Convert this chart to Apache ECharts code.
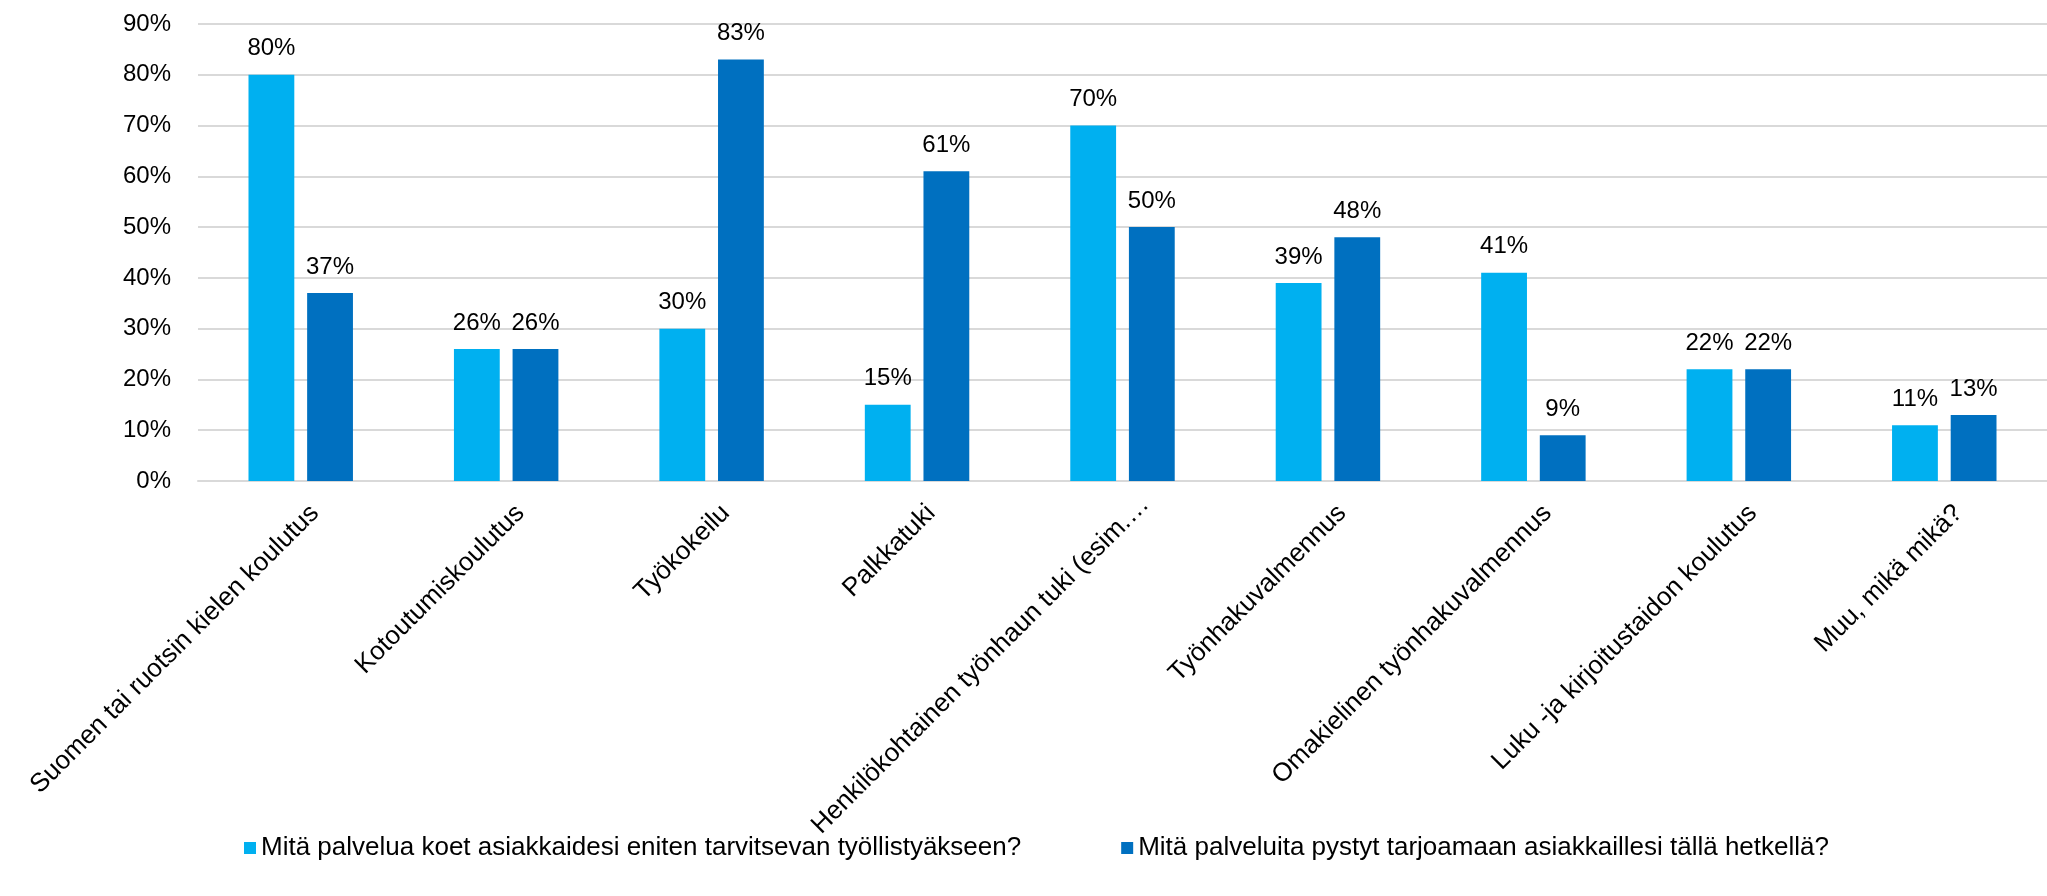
<!DOCTYPE html>
<html>
<head>
<meta charset="utf-8">
<script src="https://cdn.jsdelivr.net/npm/echarts@6/dist/echarts.min.js"></script>
<style>
html,body{margin:0;padding:0;background:#fff;}
#chart{width:2047px;height:896px;}
</style>
</head>
<body>
<div id="chart"></div>
<script>
const categories = [
  "Suomen tai ruotsin kielen koulutus",
  "Kotoutumiskoulutus",
  "Työkokeilu",
  "Palkkatuki",
  "Henkilökohtainen työnhaun tuki (esim.…",
  "Työnhakuvalmennus",
  "Omakielinen työnhakuvalmennus",
  "Luku -ja kirjoitustaidon koulutus",
  "Muu, mikä mikä?"
];
const seriesNames = [
  "Mitä palvelua koet asiakkaidesi eniten tarvitsevan työllistyäkseen?",
  "Mitä palveluita pystyt tarjoamaan asiakkaillesi tällä hetkellä?"
];
const needValues = [80, 26, 30, 15, 70, 39, 41, 22, 11];
const offerValues = [37, 26, 83, 61, 50, 48, 9, 22, 13];
const yTicks = { min: 0, max: 90, interval: 10 };

const FONT = '"Liberation Sans", Arial, sans-serif';
const chart = echarts.init(document.getElementById('chart'), null, { renderer: 'canvas' });
const labelStyle = {
  show: true, position: 'top', distance: 14,
  formatter: '{c}%', color: '#000', fontSize: 24, fontFamily: FONT
};
chart.setOption({
  animation: false,
  backgroundColor: '#fff',
  grid: { left: 198, top: 24, width: 1858, height: 457, containLabel: false },
  legend: {
    left: 239, top: 830,
    itemWidth: 12, itemHeight: 12, itemGap: 100,
    icon: 'rect',
    textStyle: { fontSize: 26, fontFamily: FONT, color: '#000' },
    data: seriesNames
  },
  xAxis: {
    type: 'category',
    data: categories,
    axisLine: { show: true, lineStyle: { color: '#d9d9d9', width: 2 } },
    axisTick: { show: false },
    axisLabel: {
      rotate: 45, interval: 0, margin: 14,
      fontSize: 26, fontFamily: FONT, color: '#000',
      verticalAlign: 'top', lineHeight: 40,
      formatter: function (v) {
        return v.indexOf('…') >= 0 ? '{e|' + v + '}' : v;
      },
      rich: {
        e: { fontSize: 26, fontFamily: FONT, color: '#000', lineHeight: 40, padding: [0, -12, 0, 0] }
      }
    }
  },
  yAxis: {
    type: 'value',
    min: yTicks.min, max: yTicks.max, interval: yTicks.interval,
    axisLine: { show: false },
    axisTick: { show: false },
    splitLine: { lineStyle: { color: '#d9d9d9', width: 2 } },
    axisLabel: { formatter: '{value}%', margin: 27, fontSize: 24, fontFamily: FONT, color: '#000' }
  },
  series: [
    {
      name: seriesNames[0], type: 'bar', data: needValues,
      barWidth: '22.3%', barGap: '28%',
      itemStyle: { color: '#00B0F0' },
      label: labelStyle
    },
    {
      name: seriesNames[1], type: 'bar', data: offerValues,
      barWidth: '22.3%', barGap: '28%',
      itemStyle: { color: '#0070C0' },
      label: labelStyle
    }
  ]
});
</script>
</body>
</html>
